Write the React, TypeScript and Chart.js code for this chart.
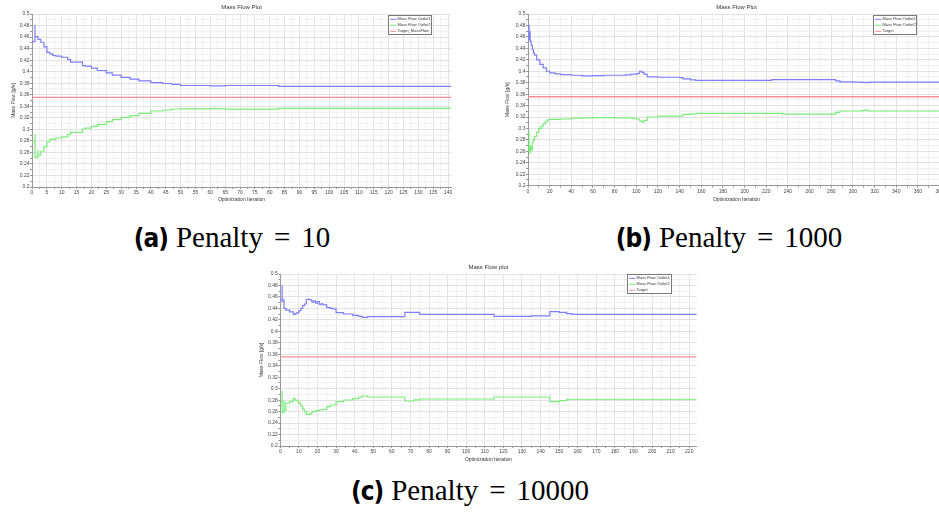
import React, { useEffect, useRef } from 'react';
import { Chart, registerables } from 'chart.js';
Chart.register(...registerables);

// ---------- data ----------
const TARGET_MASS_FLOW = 0.3555;

const Y_MIN = 0.2;
const Y_MAX = 0.5;
const Y_LABEL_STEP = 0.02;
const Y_GRID_STEP = 0.01;

// (a) Penalty = 10
const A_ITER_1 = [0, 1, 1, 2, 3, 4, 5, 6, 7, 8, 10, 12, 13, 17, 17, 18, 20, 22, 25, 27, 30, 33, 36, 40, 44, 47, 50, 60, 65, 83, 141];
const A_OUTLET_1 = [0.452, 0.481, 0.461, 0.456, 0.451, 0.443, 0.4335, 0.431, 0.428, 0.427, 0.425, 0.421, 0.4165, 0.418, 0.4105, 0.4095, 0.406, 0.402, 0.398, 0.394, 0.390, 0.387, 0.384, 0.381, 0.3795, 0.378, 0.376, 0.3752, 0.376, 0.3746, 0.3746];
const A_ITER_2 = [0, 1, 1, 2, 2, 3, 4, 5, 6, 8, 10, 12, 13, 17, 18, 20, 22, 25, 27, 30, 33, 36, 40, 44, 47, 50, 60, 65, 83, 141];
const A_OUTLET_2 = [0.2786, 0.2914, 0.2515, 0.2642, 0.2555, 0.262, 0.2695, 0.278, 0.2827, 0.285, 0.287, 0.291, 0.2948, 0.3006, 0.302, 0.305, 0.308, 0.3133, 0.317, 0.3208, 0.3237, 0.3278, 0.3318, 0.3335, 0.3353, 0.3355, 0.3358, 0.3352, 0.3365, 0.3365];
const A_X_MAX = 141;
const A_X_LABEL_STEP = 5;
const A_X_GRID_STEP = 2.5;

// (b) Penalty = 1000
const B_ITER_1 = [0, 1, 1, 2, 2, 3, 4, 5, 6, 8, 11, 14, 17, 20, 25, 30, 40, 50, 60, 70, 90, 95, 101, 103, 105, 107, 110, 120, 140, 143, 150, 155, 225, 280, 284, 288, 300, 308, 312, 315, 385];
const B_OUTLET_1 = [0.455, 0.481, 0.462, 0.47, 0.452, 0.445, 0.438, 0.432, 0.428, 0.42, 0.412, 0.406, 0.40, 0.397, 0.3955, 0.394, 0.393, 0.392, 0.3925, 0.393, 0.3935, 0.395, 0.396, 0.400, 0.398, 0.395, 0.390, 0.3895, 0.389, 0.3865, 0.385, 0.384, 0.3855, 0.3855, 0.383, 0.3815, 0.381, 0.3805, 0.380, 0.381, 0.381];
const B_ITER_2 = [0, 1, 1, 2, 2, 3, 4, 5, 6, 8, 10, 12, 14, 16, 18, 20, 30, 40, 50, 60, 80, 95, 100, 103, 105, 107, 110, 120, 140, 143, 150, 155, 225, 235, 280, 284, 288, 308, 310, 314, 385];
const B_OUTLET_2 = [0.294, 0.258, 0.27, 0.256, 0.268, 0.262, 0.276, 0.28, 0.286, 0.293, 0.30, 0.304, 0.308, 0.312, 0.315, 0.316, 0.3165, 0.318, 0.3185, 0.319, 0.3185, 0.318, 0.3165, 0.3135, 0.311, 0.314, 0.320, 0.3215, 0.3215, 0.3245, 0.3255, 0.3265, 0.3265, 0.325, 0.325, 0.328, 0.3305, 0.331, 0.332, 0.3305, 0.3305];
const B_X_MAX = 385;
const B_X_LABEL_STEP = 20;
const B_X_GRID_STEP = 10;

// (c) Penalty = 10000
const C_ITER_1 = [0, 1, 1, 2, 2, 3, 5, 7, 8, 9, 10, 11, 12, 13, 14, 16, 17, 18, 19, 20, 21, 22, 23, 25, 27, 28, 30, 34, 39, 42, 44, 47, 67, 75, 115, 135, 145, 150, 154, 157, 224];
const C_OUTLET_1 = [0.455, 0.481, 0.452, 0.457, 0.44, 0.437, 0.434, 0.4297, 0.431, 0.4325, 0.436, 0.44, 0.445, 0.4477, 0.4558, 0.4547, 0.451, 0.453, 0.449, 0.452, 0.4471, 0.448, 0.446, 0.4413, 0.44, 0.439, 0.4325, 0.4302, 0.428, 0.426, 0.4243, 0.4256, 0.4332, 0.4297, 0.4262, 0.427, 0.4343, 0.433, 0.431, 0.4297, 0.4297];
const C_ITER_2 = [0, 1, 1, 2, 2, 3, 5, 7, 8, 9, 10, 11, 12, 13, 14, 16, 17, 19, 21, 23, 25, 27, 30, 34, 39, 42, 44, 47, 67, 72, 75, 115, 145, 150, 154, 224];
const C_OUTLET_2 = [0.2773, 0.2965, 0.258, 0.279, 0.262, 0.275, 0.2773, 0.2832, 0.280, 0.2785, 0.2745, 0.270, 0.264, 0.260, 0.2553, 0.2564, 0.2599, 0.2616, 0.2628, 0.264, 0.2686, 0.2715, 0.2773, 0.2802, 0.2826, 0.285, 0.2872, 0.2855, 0.2785, 0.2805, 0.282, 0.2855, 0.2773, 0.279, 0.2815, 0.2815];
const C_X_MAX = 224;
const C_X_LABEL_STEP = 10;
const C_X_GRID_STEP = 5;

// ---------- styling ----------
const FONT = '"Liberation Sans", Arial, sans-serif';
const BLUE = 'rgb(125,125,255)';
const GREEN = 'rgb(120,238,120)';
const RED = 'rgb(242,145,145)';

function isMultiple(v: number, step: number) {
  const r = v / step;
  return Math.abs(r - Math.round(r)) < 1e-6;
}

function gridTicks(min: number, max: number, step: number) {
  const out: { value: number }[] = [];
  const n = Math.floor((max - min) / step + 1e-9);
  for (let i = 0; i <= n; i++) out.push({ value: +(min + i * step).toFixed(4) });
  return out;
}

function fmt(v: number) {
  return String(+v.toFixed(2));
}

const boxLegend = {
  id: 'boxLegend',
  afterDraw(chart: any, _args: any, opts: any) {
    if (!opts || opts.w == null) return;
    const ctx = chart.ctx as CanvasRenderingContext2D;
    ctx.save();
    ctx.fillStyle = '#ffffff';
    ctx.fillRect(opts.x, opts.y, opts.w, opts.h);
    ctx.strokeStyle = '#7a7a7a';
    ctx.lineWidth = 1;
    ctx.strokeRect(opts.x + 0.5, opts.y + 0.5, opts.w - 1, opts.h - 1);
    ctx.font = '4px ' + FONT;
    ctx.textBaseline = 'middle';
    ctx.textAlign = 'left';
    chart.data.datasets.forEach((ds: any, i: number) => {
      const yy = opts.y + 4.3 + i * 6;
      ctx.strokeStyle = ds.borderColor;
      ctx.lineWidth = 1;
      ctx.beginPath();
      ctx.moveTo(opts.x + 2, yy);
      ctx.lineTo(opts.x + 8.5, yy);
      ctx.stroke();
      ctx.fillStyle = '#333';
      ctx.fillText(ds.label, opts.x + 9.5, yy);
    });
    ctx.restore();
  },
};

type Geo = {
  w: number; h: number;
  yAxisW: number; xAxisH: number; padRight: number;
  titleH: number; yTitleOff: number; xTitleOff: number;
  legend: { x: number; y: number; w: number; h: number };
};

type Spec = {
  title: string;
  targetLabel: string;
  iter1: number[]; out1: number[];
  iter2: number[]; out2: number[];
  xMax: number; xLabelStep: number; xGridStep: number;
  geo: Geo;
};

function pts(xs: number[], ys: number[]) {
  return xs.map((x, i) => ({ x, y: ys[i] }));
}

function buildConfig(s: Spec): any {
  const g = s.geo;
  const titleFont = 6;
  const titleLH = titleFont * 1.2;
  const axisFont = 5;
  const axisLH = axisFont * 1.2;
  const lineDs = (label: string, data: any[], color: string, width: number) => ({
    label, data, borderColor: color, backgroundColor: color, borderWidth: width,
    pointRadius: 0, stepped: true, fill: false,
  });
  return {
    type: 'line',
    data: {
      datasets: [
        lineDs('Mass Flow Outlet1', pts(s.iter1, s.out1), BLUE, 1.2),
        lineDs('Mass Flow Outlet2', pts(s.iter2, s.out2), GREEN, 1.2),
        lineDs(s.targetLabel, [{ x: 0, y: TARGET_MASS_FLOW }, { x: s.xMax, y: TARGET_MASS_FLOW }], RED, 1.4),
      ],
    },
    options: {
      responsive: false,
      maintainAspectRatio: false,
      animation: false,
      events: [],
      layout: { padding: { left: 0, right: g.padRight, top: 0, bottom: 0 } },
      plugins: {
        legend: { display: false },
        tooltip: { enabled: false },
        title: {
          display: true, text: s.title, fullSize: false, color: '#333',
          font: { size: titleFont, family: FONT, weight: 'normal' },
          padding: { top: 3.4, bottom: g.titleH - 3.4 - titleLH },
        },
        boxLegend: g.legend,
      },
      scales: {
        x: {
          type: 'linear', min: 0, max: s.xMax,
          afterBuildTicks: (sc: any) => { sc.ticks = gridTicks(0, s.xMax, s.xGridStep); },
          afterFit: (sc: any) => { sc.height = g.xAxisH; },
          ticks: {
            autoSkip: false, maxRotation: 0, padding: 0.5, color: '#444',
            font: { size: axisFont, family: FONT },
            callback: (v: number) => (isMultiple(v, s.xLabelStep) ? String(v) : ''),
          },
          grid: {
            color: (c: any) => (c.tick && isMultiple(c.tick.value, s.xLabelStep) ? '#e2e2e2' : '#f1f1f1'),
            tickColor: '#999', tickLength: 2, lineWidth: 1,
          },
          border: { display: true, color: '#999', width: 1 },
          title: {
            display: true, text: 'Optimization Iteration', color: '#333',
            font: { size: axisFont, family: FONT },
            padding: { top: 0, bottom: g.xTitleOff - axisLH / 2 },
          },
        },
        y: {
          type: 'linear', min: Y_MIN, max: Y_MAX,
          afterBuildTicks: (sc: any) => { sc.ticks = gridTicks(Y_MIN, Y_MAX, Y_GRID_STEP); },
          afterFit: (sc: any) => { sc.width = g.yAxisW; },
          ticks: {
            autoSkip: false, padding: 0.5, color: '#444',
            font: { size: axisFont, family: FONT },
            callback: (v: number) => (isMultiple(v - Y_MIN, Y_LABEL_STEP) ? fmt(v) : ''),
          },
          grid: {
            color: (c: any) => (c.tick && isMultiple(c.tick.value - Y_MIN, Y_LABEL_STEP) ? '#e2e2e2' : '#f1f1f1'),
            tickColor: '#999', tickLength: 2, lineWidth: 1,
          },
          border: { display: true, color: '#999', width: 1 },
          title: {
            display: true, text: 'Mass Flow [g/s]', color: '#333',
            font: { size: axisFont, family: FONT },
            padding: { top: g.yTitleOff - axisLH / 2, bottom: 0 },
          },
        },
      },
    },
    plugins: [boxLegend],
  };
}

function PlotCanvas({ spec, left, top, clipW }: { spec: Spec; left: number; top: number; clipW?: number }) {
  const ref = useRef<HTMLCanvasElement | null>(null);
  useEffect(() => {
    if (!ref.current) return;
    const chart = new Chart(ref.current, buildConfig(spec));
    return () => chart.destroy();
  }, [spec]);
  return (
    <div style={{ position: 'absolute', left, top, width: clipW ?? spec.geo.w, height: spec.geo.h, overflow: 'hidden' }}>
      <canvas ref={ref} width={spec.geo.w} height={spec.geo.h} style={{ width: spec.geo.w, height: spec.geo.h, display: 'block' }} />
    </div>
  );
}

const SPEC_A: Spec = {
  title: 'Mass Flow Plot', targetLabel: 'Target_MassFlow',
  iter1: A_ITER_1, out1: A_OUTLET_1, iter2: A_ITER_2, out2: A_OUTLET_2,
  xMax: A_X_MAX, xLabelStep: A_X_LABEL_STEP, xGridStep: A_X_GRID_STEP,
  geo: { w: 460, h: 210, yAxisW: 32, xAxisH: 23, padRight: 9, titleH: 14, yTitleOff: 14, xTitleOff: 10,
    legend: { x: 388, y: 15, w: 44, h: 20 } },
};
const SPEC_B: Spec = {
  title: 'Mass Flow Plot', targetLabel: 'Target',
  iter1: B_ITER_1, out1: B_OUTLET_1, iter2: B_ITER_2, out2: B_OUTLET_2,
  xMax: B_X_MAX, xLabelStep: B_X_LABEL_STEP, xGridStep: B_X_GRID_STEP,
  geo: { w: 480, h: 210, yAxisW: 58, xAxisH: 24.3, padRight: 5, titleH: 14, yTitleOff: 38, xTitleOff: 10,
    legend: { x: 403, y: 15, w: 44, h: 20 } },
};
const SPEC_C: Spec = {
  title: 'Mass Flow plot', targetLabel: 'Target',
  iter1: C_ITER_1, out1: C_OUTLET_1, iter2: C_ITER_2, out2: C_OUTLET_2,
  xMax: C_X_MAX, xLabelStep: C_X_LABEL_STEP, xGridStep: C_X_GRID_STEP,
  geo: { w: 460, h: 210, yAxisW: 40.3, xAxisH: 24, padRight: 3.3, titleH: 14, yTitleOff: 22, xTitleOff: 10,
    legend: { x: 387, y: 14, w: 45, h: 20 } },
};

const SERIF = '"Liberation Serif", Tinos, "Times New Roman", "Noto Serif", "DejaVu Serif", serif';
const BOLD_SANS = '"Liberation Sans Narrow", "DejaVu Sans Condensed", "Liberation Sans", sans-serif';

function Caption({ letter, word, num, cx, cy }: { letter: string; word: string; num: string; cx: number; cy: number }) {
  return (
    <div style={{ position: 'absolute', left: cx - 200, top: cy - 17, width: 400, height: 34, lineHeight: '34px',
      textAlign: 'center', whiteSpace: 'nowrap', color: '#000' }}>
      <span style={{ fontFamily: BOLD_SANS, fontWeight: 700, fontSize: 26, letterSpacing: '-1px' }}>({letter})</span>
      <span style={{ fontFamily: SERIF, fontSize: 29, marginLeft: 8 }}>{word}</span>
      <span style={{ fontFamily: SERIF, fontSize: 29, margin: '0 11px' }}>=</span>
      <span style={{ fontFamily: SERIF, fontSize: 29 }}>{num}</span>
    </div>
  );
}

export default function App() {
  return (
    <div style={{ position: 'absolute', left: 0, top: 0, width: 939, height: 515, overflow: 'hidden', background: '#fff' }}>
      <PlotCanvas spec={SPEC_A} left={0} top={0} />
      <PlotCanvas spec={SPEC_B} left={470} top={0} clipW={469} />
      <PlotCanvas spec={SPEC_C} left={240} top={260} />
      <Caption letter="a" word="Penalty" num="10" cx={232} cy={237} />
      <Caption letter="b" word="Penalty" num="1000" cx={729} cy={237} />
      <Caption letter="c" word="Penalty" num="10000" cx={470} cy={490} />
    </div>
  );
}
